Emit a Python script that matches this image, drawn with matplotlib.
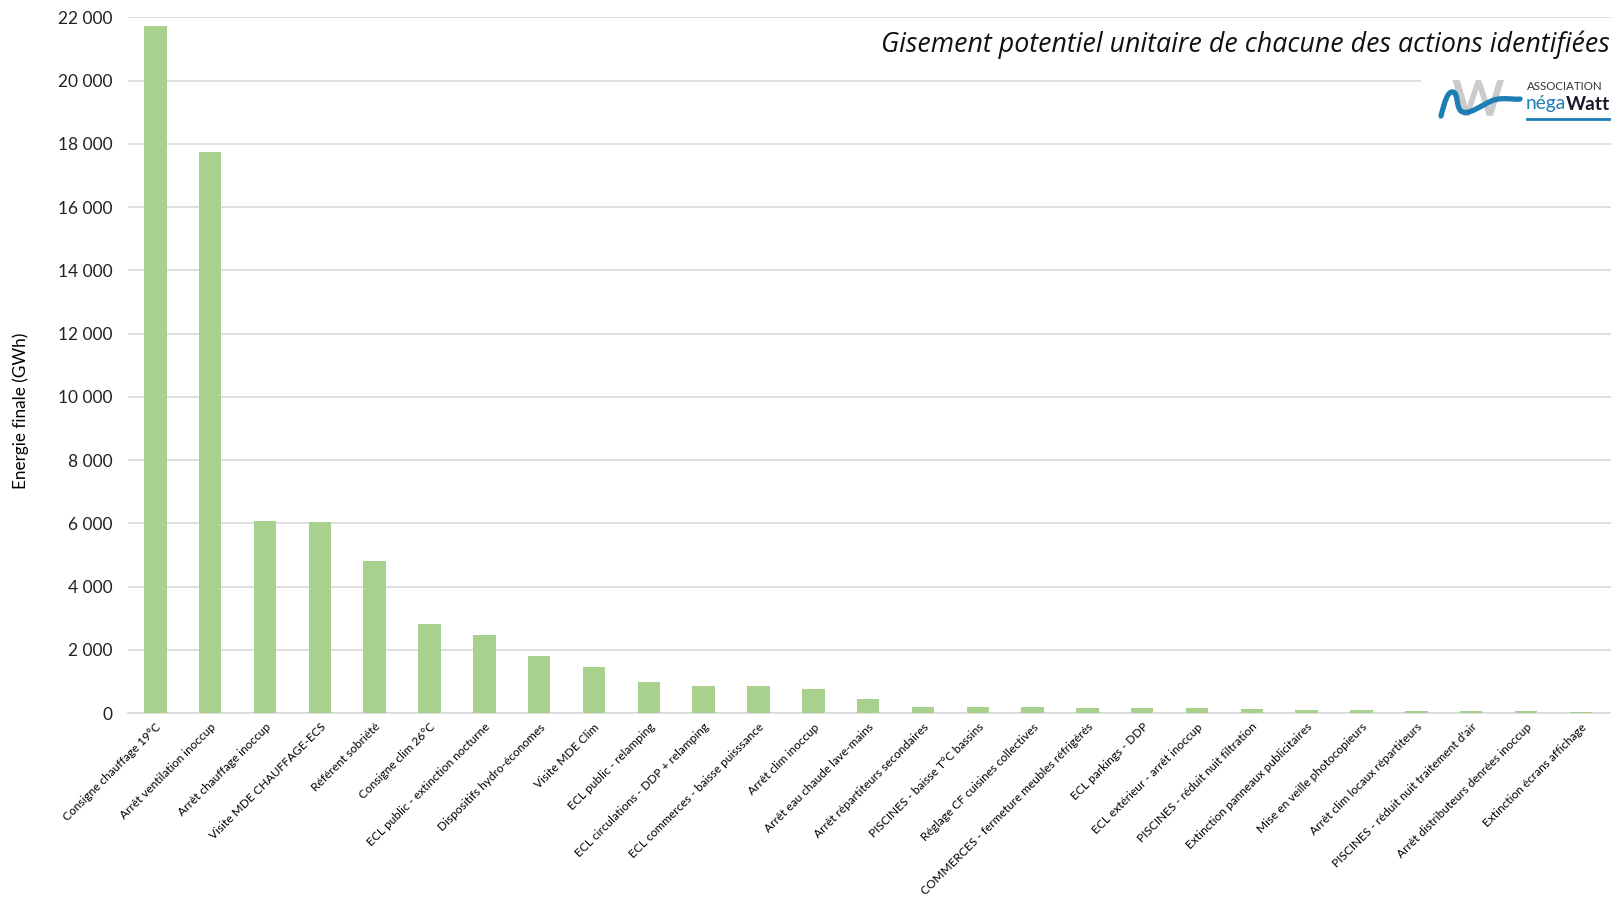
import numpy as np
import matplotlib.pyplot as plt
from matplotlib.ticker import FuncFormatter
from matplotlib.path import Path
from matplotlib.patches import PathPatch

actions = [
    "Consigne chauffage 19°C", "Arrêt ventilation inoccup", "Arrêt chauffage inoccup",
    "Visite MDE CHAUFFAGE-ECS", "Référent sobriété", "Consigne clim 26°C",
    "ECL public - extinction nocturne", "Dispositifs hydro-économes", "Visite MDE Clim",
    "ECL public - relamping", "ECL circulations - DDP + relamping",
    "ECL commerces - baisse puisssance", "Arrêt clim inoccup", "Arrêt eau chaude lave-mains",
    "Arrêt répartiteurs secondaires", "PISCINES - baisse T°C bassins",
    "Réglage CF cuisines collectives", "COMMERCES - fermeture meubles réfrigérés",
    "ECL parkings - DDP", "ECL extérieur - arrêt inoccup", "PISCINES - réduit nuit filtration",
    "Extinction panneaux publicitaires", "Mise en veille photocopieurs",
    "Arrêt clim locaux répartiteurs", "PISCINES - réduit nuit traitement d'air",
    "Arrêt distributeurs denrées inoccup", "Extinction écrans affichage",
]
energie_gwh = [21720, 17750, 6060, 6030, 4800, 2830, 2480, 1810, 1450, 980, 850, 840, 745,
               430, 200, 180, 180, 170, 165, 160, 130, 95, 85, 75, 65, 50, 40]
y_ticks = list(range(0, 22001, 2000))

plt.rcParams['font.family'] = ['Lato', 'DejaVu Sans']

W, H = 1611, 898
fig = plt.figure(figsize=(W / 100, H / 100), dpi=100)
ax = fig.add_axes([128 / W, 1 - 713 / H, 1483 / W, (713 - 17.3) / H])

x = np.arange(len(actions))
ax.bar(x, energie_gwh, width=0.41, color='#A9D18E', zorder=3)

ax.set_xlim(-0.5, len(actions) - 0.45)
ax.set_ylim(0, 22000)
ax.set_yticks(y_ticks)
ax.yaxis.set_major_formatter(FuncFormatter(lambda v, p: f"{int(v):,}".replace(",", " ")))
ax.grid(axis='y', color='#D9D9D9', linewidth=1.2, zorder=0)
for s in ['top', 'right', 'left']:
    ax.spines[s].set_visible(False)
ax.spines['bottom'].set_color('#D9D9D9')
ax.spines['bottom'].set_linewidth(1.2)
ax.tick_params(axis='both', length=0)
ax.tick_params(axis='y', labelsize=12.5, pad=11, colors='#222222')
ax.set_xticks(x)
ax.set_xticklabels(actions, rotation=45, ha='right', rotation_mode='anchor', fontsize=8.6)
ax.tick_params(axis='x', pad=6)
ax.set_ylabel("Energie finale (GWh)", fontsize=12.3)
ax.yaxis.set_label_coords(-99 / 1483, 0.435)

fig.text(0.9995, 1 - 45 / H, "Gisement potentiel unitaire de chacune des actions identifiées",
         ha='right', va='center', fontsize=19.3, style='italic', color='#111111',
         family=['Open Sans', 'DejaVu Sans'])

# logo negaWatt, drawn in figure pixel coordinates
lax = fig.add_axes([1421 / W, 1 - 128 / H, 190 / W, 56 / H])
lax.set_xlim(1421, 1611)
lax.set_ylim(128, 72)
lax.axis('off')
lax.add_patch(plt.Rectangle((1421, 72), 190, 56, color='white', zorder=0))
lax.text(1478, 101, "W", fontsize=36, fontweight='bold', color='#CBCBCB',
         ha='center', va='center', zorder=1)
verts = [(1441, 116), (1445, 100), (1448, 91), (1453, 92),
         (1458, 93), (1456, 104), (1460, 110),
         (1467, 118), (1482, 104), (1494, 100),
         (1504, 97), (1514, 100), (1520, 99)]
codes = [Path.MOVETO] + [Path.CURVE4] * 12
lax.add_patch(PathPatch(Path(verts, codes), facecolor='none', edgecolor='#1D7EB5',
                        linewidth=3.8, capstyle='round', zorder=2))
lax.text(1527, 86, "ASSOCIATION", fontsize=8.3, color='#333333', va='center', ha='left')
t1 = lax.text(1526, 104, "néga", fontsize=13.8, color='#1D7EB5', va='center', ha='left')
lax.annotate("Watt", xy=(1, 0.5), xycoords=t1, va='center', ha='left', fontsize=13.8,
             color='#1A1A2E', fontweight='bold')
lax.plot([1527, 1611], [119, 119], color='#1D7EB5', linewidth=2)

fig.savefig("out.png", dpi=100)
